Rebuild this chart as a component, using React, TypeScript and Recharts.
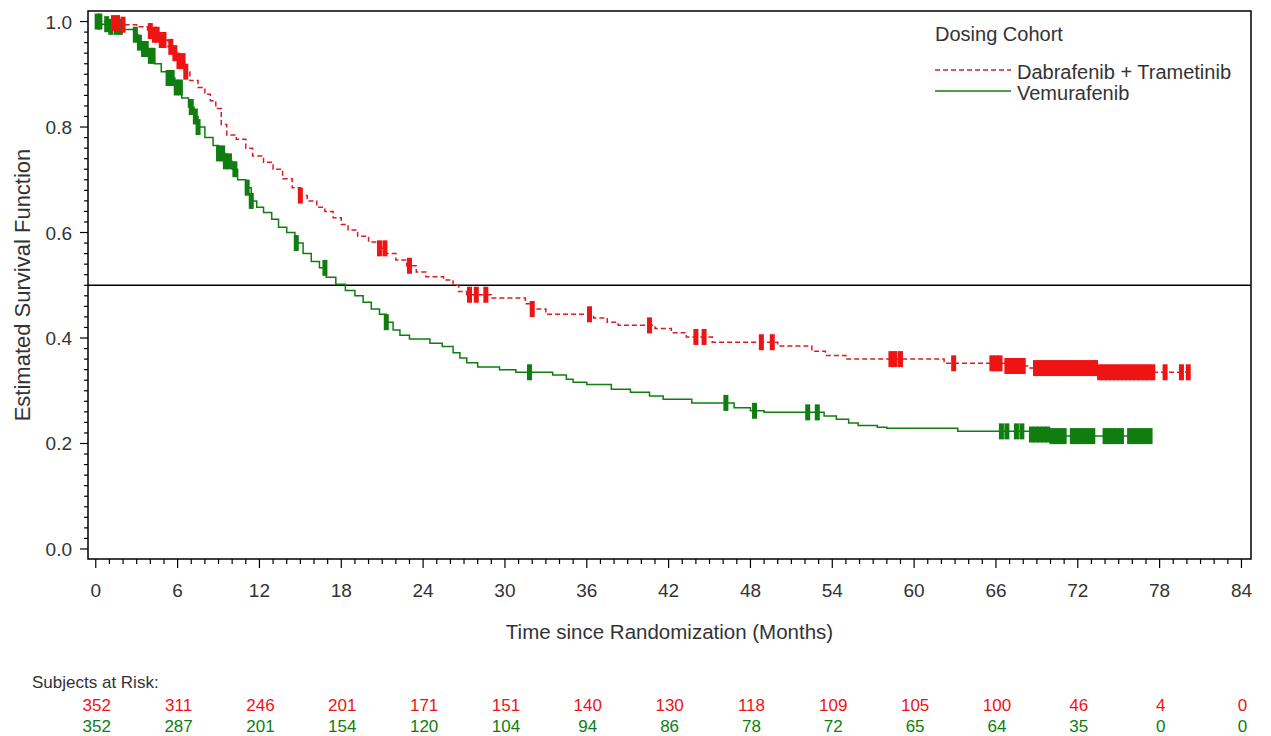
import React from 'react';
import { ComposedChart, Line, Scatter, XAxis, YAxis, ReferenceLine, ReferenceArea, Legend, Label } from 'recharts';

const FONT = '"Liberation Sans", Arial, sans-serif';
const TEXT = '#333333';
const RED = '#ee1414';
const RED_LINE = '#d81c24';
const GREEN = '#0f7d0f';

const cohorts = ['Dabrafenib + Trametinib', 'Vemurafenib'];

// month ticks (labelled) and subjects at risk under each
const monthLabels = [0, 6, 12, 18, 24, 30, 36, 42, 48, 54, 60, 66, 72, 78, 84];
const riskDabTram = [352, 311, 246, 201, 171, 151, 140, 130, 118, 109, 105, 100, 46, 4, 0];
const riskVemu = [352, 287, 201, 154, 120, 104, 94, 86, 78, 72, 65, 64, 35, 0, 0];

const survLabels = [0, 0.2, 0.4, 0.6, 0.8, 1.0];

// [month, estimated survival] steps
const dabTramCurve: [number, number][] = [
  [0, 1.0], [1.2, 0.997], [2.0, 0.994], [3.0, 0.99], [3.8, 0.982], [4.3, 0.975], [4.8, 0.965],
  [5.3, 0.952], [5.7, 0.94], [6.1, 0.925], [6.5, 0.905], [6.9, 0.888], [7.5, 0.875], [8.0, 0.862],
  [8.4, 0.85], [8.8, 0.835], [9.2, 0.805], [9.6, 0.785], [10.3, 0.777], [11.0, 0.76], [11.5, 0.745],
  [12.3, 0.733], [13.0, 0.72], [13.7, 0.702], [14.4, 0.685], [15.0, 0.67], [15.5, 0.66], [16.2, 0.648],
  [16.8, 0.64], [17.4, 0.628], [18.0, 0.615], [18.5, 0.605], [19.2, 0.593], [20.0, 0.582], [20.7, 0.57],
  [21.3, 0.56], [22.0, 0.548], [22.8, 0.537], [23.5, 0.525], [24.2, 0.516], [25.5, 0.51], [26.2, 0.5],
  [26.6, 0.488], [27.2, 0.482], [29.0, 0.476], [31.5, 0.465], [32.0, 0.455], [33.0, 0.445], [36.5, 0.438],
  [37.5, 0.43], [38.3, 0.424], [41.0, 0.418], [42.2, 0.41], [43.3, 0.402], [45.2, 0.392], [50.0, 0.385],
  [52.5, 0.375], [53.5, 0.367], [55.0, 0.36], [62.2, 0.352], [66.8, 0.347], [68.5, 0.343], [73.4, 0.335],
  [80.3, 0.335],
];

const vemuCurve: [number, number][] = [
  [0, 1.0], [0.4, 0.995], [1.0, 0.99], [2.0, 0.985], [2.8, 0.975], [3.1, 0.96], [3.5, 0.948], [3.9, 0.935],
  [4.3, 0.92], [4.8, 0.905], [5.3, 0.893], [5.8, 0.875], [6.3, 0.855], [6.8, 0.838], [7.2, 0.82], [7.5, 0.8],
  [8.0, 0.78], [8.6, 0.765], [9.0, 0.75], [9.5, 0.735], [10.0, 0.72], [10.4, 0.7], [11.0, 0.685], [11.4, 0.66],
  [11.8, 0.648], [12.3, 0.638], [12.9, 0.625], [13.4, 0.61], [14.0, 0.6], [14.6, 0.58], [15.2, 0.56],
  [15.8, 0.545], [16.4, 0.533], [16.9, 0.515], [17.6, 0.502], [18.3, 0.49], [19.0, 0.48], [19.6, 0.468],
  [20.2, 0.455], [20.8, 0.445], [21.3, 0.43], [21.8, 0.415], [22.3, 0.405], [23.0, 0.398], [24.5, 0.39],
  [25.4, 0.384], [26.2, 0.372], [26.7, 0.362], [27.2, 0.353], [28.0, 0.345], [29.6, 0.34], [30.8, 0.335],
  [33.5, 0.33], [34.5, 0.322], [35.0, 0.316], [36.0, 0.312], [37.8, 0.303], [39.2, 0.297], [40.6, 0.29],
  [41.6, 0.284], [43.7, 0.277], [46.8, 0.268], [48.0, 0.262], [49.0, 0.259], [53.4, 0.252], [54.3, 0.246],
  [55.2, 0.239], [55.9, 0.234], [57.3, 0.231], [58.0, 0.229], [63.2, 0.223], [68.6, 0.217], [70.0, 0.214],
  [77.4, 0.214],
];

// censoring times (months)
const dabTramCensored = [
  1.3, 1.6, 2.0, 4.0, 4.3, 4.5, 4.8, 5.0, 5.5, 5.8, 6.1, 6.4, 6.6, 15.0, 20.8, 21.2, 23.0, 27.4, 27.9,
  28.6, 32.0, 36.2, 40.6, 44.0, 44.6, 48.8, 49.6, 58.3, 58.6, 59.0, 62.9, 65.7, 66.0, 66.3, 66.8, 67.1,
  67.4, 67.7, 68.0, 68.9, 69.2, 69.5, 69.8, 70.1, 70.4, 70.7, 71.0, 71.3, 71.6, 71.9, 72.2, 72.5, 72.8,
  73.1, 73.3, 73.6, 73.9, 74.2, 74.5, 74.8, 75.1, 75.4, 75.7, 76.0, 76.3, 76.6, 76.9, 77.2, 77.5, 78.4,
  79.6, 80.1,
];
const vemuCensored = [
  0.1, 0.3, 0.8, 1.1, 1.5, 1.8, 2.9, 3.2, 3.5, 3.7, 4.0, 4.2, 5.3, 5.6, 5.9, 6.2, 7.0, 7.3, 7.5, 9.0,
  9.3, 9.5, 9.8, 10.2, 11.1, 11.4, 14.7, 16.8, 21.3, 31.8, 46.2, 48.3, 52.2, 52.9, 66.4, 66.8, 67.5,
  67.9, 68.6, 68.9, 69.2, 69.5, 69.8, 70.1, 70.4, 70.7, 71.0, 71.6, 71.9, 72.2, 72.5, 72.8, 73.1, 74.0,
  74.3, 74.6, 74.9, 75.2, 75.8, 76.1, 76.4, 76.7, 77.0, 77.3,
];

const toPoints = (curve: [number, number][]) => curve.map(([t, s]) => ({ t, s }));

// survival estimate in effect at month t
const survAt = (curve: [number, number][], t: number) => {
  let s = curve[0][1];
  for (const [ct, cs] of curve) {
    if (ct <= t) s = cs;
  }
  return s;
};

const censorPoints = (curve: [number, number][], times: number[]) =>
  times.map((t) => ({ t, s: survAt(curve, t) }));

const monthTicks = Array.from({ length: 85 }, (_, i) => i);
const survTicks = Array.from({ length: 51 }, (_, i) => Math.round(i * 2) / 100);

const MonthTick = (props: any) => {
  const { x, y, payload } = props;
  const v = payload.value;
  const idx = monthLabels.indexOf(v);
  const major = idx >= 0;
  return (
    <g>
      <line x1={x} x2={x} y1={y} y2={y + (major ? 9 : 5)} stroke="#000" strokeWidth={1.2} />
      {major && (
        <>
          <text x={x} y={y + 38} textAnchor="middle" fontSize={19} fontFamily={FONT} fill={TEXT}>{v}</text>
          <text x={x + 1} y={y + 152} textAnchor="middle" fontSize={17} fontFamily={FONT} fill={RED}>{riskDabTram[idx]}</text>
          <text x={x + 1} y={y + 173} textAnchor="middle" fontSize={17} fontFamily={FONT} fill={GREEN}>{riskVemu[idx]}</text>
        </>
      )}
    </g>
  );
};

const SurvTick = (props: any) => {
  const { x, y, payload } = props;
  const v = payload.value;
  const major = survLabels.some((m) => Math.abs(m - v) < 1e-6);
  return (
    <g>
      <line x1={x - (major ? 8 : 4)} x2={x} y1={y} y2={y} stroke="#000" strokeWidth={1.2} />
      {major && (
        <text x={x - 16} y={y + 7} textAnchor="end" fontSize={19} fontFamily={FONT} fill={TEXT}>{v.toFixed(1)}</text>
      )}
    </g>
  );
};

const CensorMark = (color: string) => (props: any) => {
  const { cx, cy } = props;
  if (cx == null || cy == null) return <g />;
  return <rect x={cx - 2.5} y={cy - 8} width={5} height={16} fill={color} />;
};

const LegendBox = () => (
  <div style={{ fontFamily: FONT, fontSize: 20, color: TEXT, lineHeight: '21px' }}>
    <div style={{ marginBottom: 17 }}>Dosing Cohort</div>
    {cohorts.map((name, i) => (
      <div key={name} style={{ display: 'flex', alignItems: 'flex-start', height: 21 }}>
        <svg width={82} height={21} style={{ flex: 'none' }}>
          <line x1={0} x2={76} y1={8} y2={8} stroke={i === 0 ? RED_LINE : GREEN} strokeWidth={1.5}
            strokeDasharray={i === 0 ? '5 3' : undefined} />
        </svg>
        <span style={{ whiteSpace: 'nowrap' }}>{name}</span>
      </div>
    ))}
  </div>
);

export default function App() {
  const dabTram = toPoints(dabTramCurve);
  const vemu = toPoints(vemuCurve);
  return (
    <div style={{ position: 'absolute', left: 0, top: 0, background: '#fff' }}>
      <ComposedChart width={1271} height={736} margin={{ top: 11, right: 20, bottom: 0, left: 18 }}>
        <XAxis
          dataKey="t"
          type="number"
          domain={[-0.57, 84.7]}
          ticks={monthTicks}
          interval={0}
          tickSize={0}
          tickMargin={0}
          tickLine={false}
          axisLine={false}
          height={177}
          tick={<MonthTick />}
        >
          <Label
            content={(p: any) => {
              const vb = p.viewBox || { x: 88, y: 559, width: 1163 };
              return (
                <g fontFamily={FONT} fill={TEXT}>
                  <text x={vb.x + vb.width / 2} y={vb.y + 80} textAnchor="middle" fontSize={20.5}>
                    Time since Randomization (Months)
                  </text>
                  <text x={32} y={vb.y + 129} fontSize={17}>Subjects at Risk:</text>
                </g>
              );
            }}
          />
        </XAxis>
        <YAxis
          dataKey="s"
          type="number"
          domain={[-0.019, 1.02]}
          ticks={survTicks}
          interval={0}
          tickSize={0}
          tickMargin={0}
          tickLine={false}
          axisLine={false}
          width={70}
          tick={<SurvTick />}
        >
          <Label
            content={(p: any) => {
              const vb = p.viewBox || { x: 18, y: 11, height: 548 };
              const cx = vb.x + 4;
              const cy = vb.y + vb.height / 2;
              return (
                <text x={cx} y={cy} transform={`rotate(-90 ${cx} ${cy})`} textAnchor="middle"
                  dominantBaseline="central" fontSize={22} fontFamily={FONT} fill={TEXT}>
                  Estimated Survival Function
                </text>
              );
            }}
          />
        </YAxis>
        <ReferenceArea x1={-0.57} x2={84.7} y1={-0.019} y2={1.02} fill="none" stroke="#000" strokeWidth={1.5} />
        <ReferenceLine y={0.5} stroke="#000" strokeWidth={1.4} />
        <Line data={vemu} dataKey="s" type="stepAfter" stroke={GREEN} strokeWidth={1.5} dot={false}
          activeDot={false} isAnimationActive={false} />
        <Line data={dabTram} dataKey="s" type="stepAfter" stroke={RED_LINE} strokeWidth={1.5} strokeDasharray="5 3"
          dot={false} activeDot={false} isAnimationActive={false} />
        <Scatter data={censorPoints(vemuCurve, vemuCensored)} dataKey="s" shape={CensorMark(GREEN)}
          isAnimationActive={false} />
        <Scatter data={censorPoints(dabTramCurve, dabTramCensored)} dataKey="s" shape={CensorMark(RED)}
          isAnimationActive={false} />
        <Legend
          layout="vertical"
          align="center"
          verticalAlign="middle"
          wrapperStyle={{ position: 'absolute', left: 935, top: 24, width: 330 }}
          content={() => <LegendBox />}
        />
      </ComposedChart>
    </div>
  );
}
